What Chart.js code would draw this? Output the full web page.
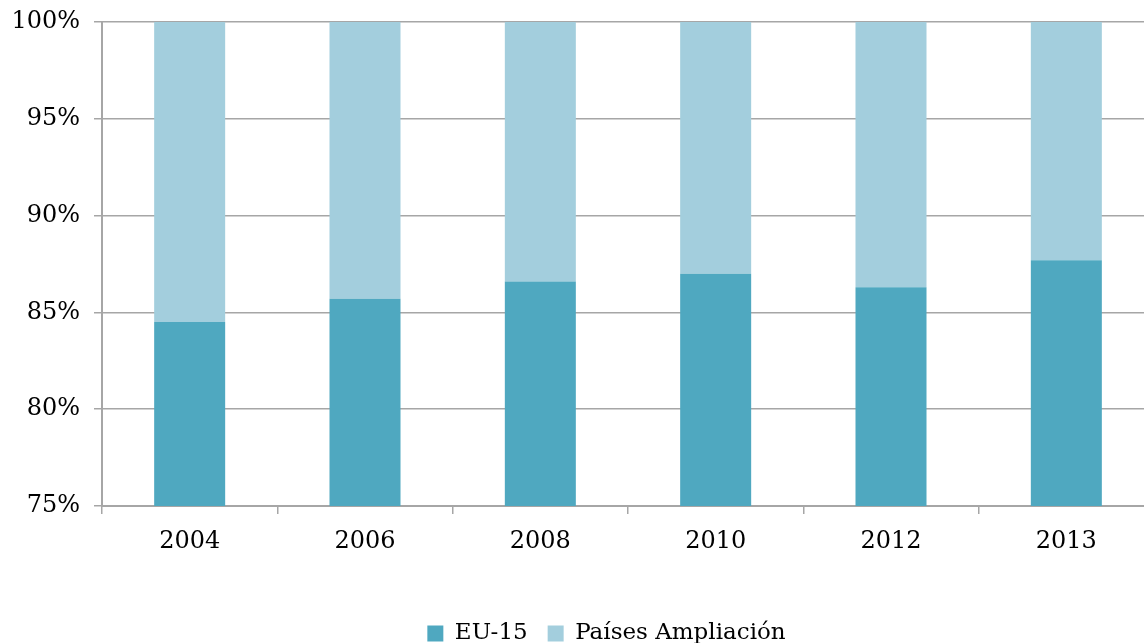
<!DOCTYPE html>
<html lang="es">
    <head>
        <meta charset="UTF-8" />
        <title>EU-15 / Países Ampliación</title>
        <script src="https://cdn.jsdelivr.net/npm/chart.js"></script>
        <style>
            html, body {
                margin: 0;
                padding: 0;
                background: #fff;
                overflow: hidden;
            }
            .chart-container {
                width: 1154px;
                height: 643px;
            }
        </style>
    </head>
    <body>
        <div class="chart-container">
            <canvas id="shareChart"></canvas>
        </div>

        <script>
            const years = ["2004", "2006", "2008", "2010", "2012", "2013"];
            const eu15 = [84.5, 85.7, 86.6, 87.0, 86.3, 87.7];
            const ampliacion = [15.5, 14.3, 13.4, 13.0, 13.7, 12.3];
            const yTicks = [75, 80, 85, 90, 95, 100];

            const gridColor = "#a6a6a6";
            const font = { family: "'DejaVu Serif', serif", size: 24 };

            // the legend sits a bit right of the canvas centre in the original
            const shiftLegend = {
                id: "shiftLegend",
                afterLayout(chart) {
                    chart.legend.left += 29;
                    chart.legend.right += 29;
                },
            };

            new Chart(document.getElementById("shareChart"), {
                type: "bar",
                data: {
                    labels: years,
                    datasets: [
                        {
                            label: "EU-15",
                            data: eu15,
                            backgroundColor: "#4fa8c0",
                            categoryPercentage: 1,
                            barPercentage: 0.405,
                        },
                        {
                            label: "Países Ampliación",
                            data: ampliacion,
                            backgroundColor: "#a3cedd",
                            categoryPercentage: 1,
                            barPercentage: 0.405,
                        },
                    ],
                },
                options: {
                    responsive: true,
                    maintainAspectRatio: false,
                    animation: false,
                    layout: { padding: { top: 0, right: 0, left: 1, bottom: -12 } },
                    plugins: {
                        legend: {
                            position: "bottom",
                            labels: {
                                color: "#000",
                                font: { family: font.family, size: 23 },
                                boxWidth: 16,
                                boxHeight: 16,
                                padding: 20,
                            },
                        },
                        tooltip: { enabled: false },
                    },
                    scales: {
                        x: {
                            stacked: true,
                            grid: {
                                color: gridColor,
                                lineWidth: 1.5,
                                drawOnChartArea: false,
                                offset: true,
                                tickLength: 8,
                            },
                            border: { color: gridColor, width: 2 },
                            ticks: { color: "#000", font: font, padding: 13 },
                            afterFit: (scale) => {
                                scale.height = 96;
                            },
                        },
                        y: {
                            stacked: true,
                            min: yTicks[0],
                            max: yTicks[yTicks.length - 1],
                            afterBuildTicks: (scale) => {
                                scale.ticks = yTicks.map((v) => ({ value: v }));
                            },
                            grid: {
                                color: gridColor,
                                lineWidth: 1.5,
                                tickLength: 8,
                            },
                            border: { color: gridColor, width: 2 },
                            ticks: {
                                color: "#000",
                                font: font,
                                padding: 14,
                                callback: (v) => v + "%",
                            },
                            afterFit: (scale) => {
                                scale.width = 101;
                                scale.paddingTop = 22;
                            },
                        },
                    },
                },
                plugins: [shiftLegend],
            });
        </script>
    </body>
</html>
